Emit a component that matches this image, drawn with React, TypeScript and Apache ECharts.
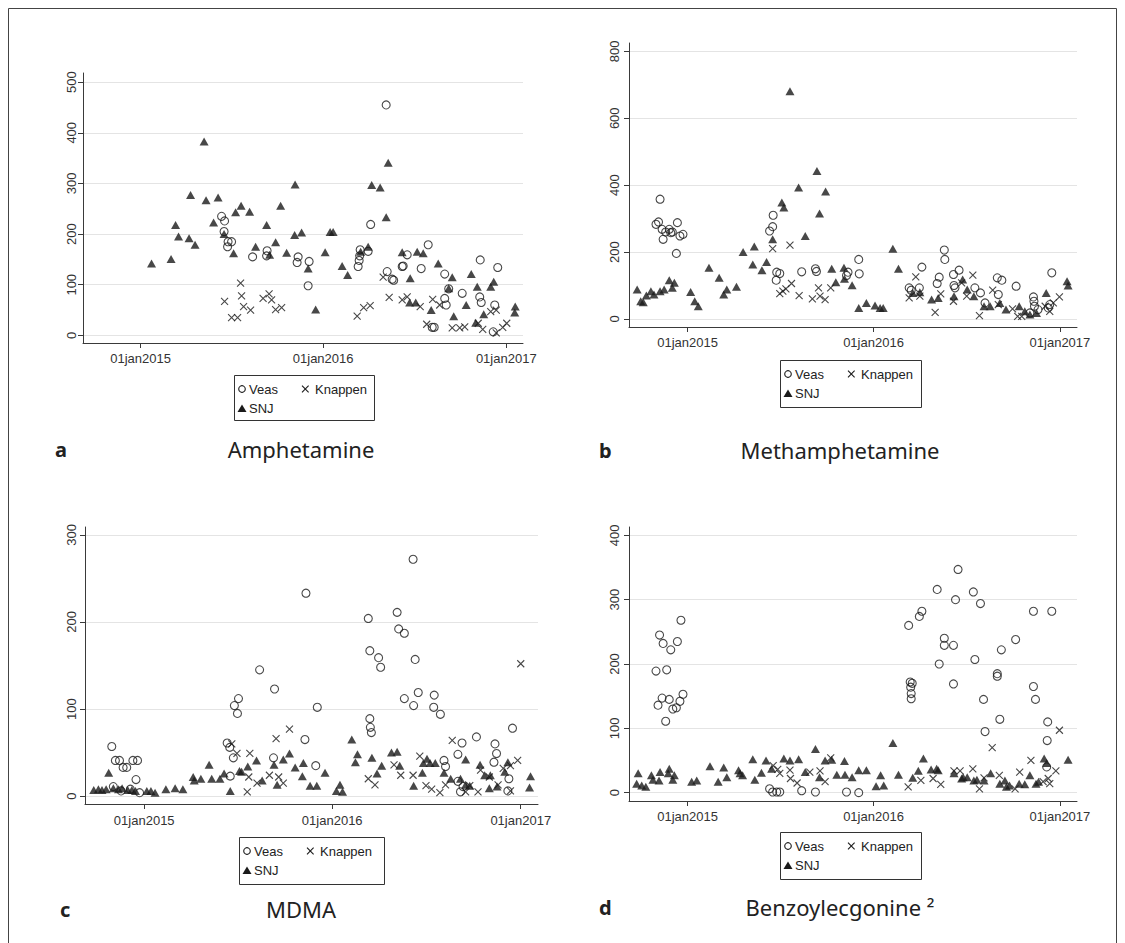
import React, { useEffect, useRef } from "react";
import * as echarts from "echarts";

type Pt = [string, number];

// ---------- tick labels / names ----------
const xTickDates = ["2015-01-01", "2016-01-01", "2017-01-01"];
const amphYTicks = [0, 100, 200, 300, 400, 500];
const methYTicks = [0, 200, 400, 600, 800];
const mdmaYTicks = [0, 100, 200, 300];
const bzeYTicks = [0, 100, 200, 300, 400];
const legendNames = ["Veas", "Knappen", "SNJ"];
const panelTitles = ["Amphetamine", "Methamphetamine", "MDMA", "Benzoylecgonine \u00b2"];
const panelLetters = ["a", "b", "c", "d"];

// ---------- a: Amphetamine ----------
const amphVeas: Pt[] = [
  ["2015-06-12", 235], ["2015-06-18", 226], ["2015-06-17", 205], ["2015-06-25", 185], ["2015-07-02", 185],
  ["2015-06-24", 175], ["2015-08-13", 155], ["2015-09-11", 167], ["2015-09-10", 157], ["2015-11-12", 155],
  ["2015-11-10", 144], ["2015-12-04", 146], ["2015-12-02", 98], ["2016-05-06", 455], ["2016-04-05", 219],
  ["2016-03-15", 169], ["2016-03-14", 157], ["2016-03-13", 148], ["2016-03-11", 136], ["2016-03-31", 166],
  ["2016-05-08", 126], ["2016-05-18", 111], ["2016-05-21", 109], ["2016-06-07", 136], ["2016-06-09", 137],
  ["2016-06-17", 159], ["2016-07-15", 132], ["2016-07-29", 179], ["2016-08-06", 16], ["2016-08-10", 16],
  ["2016-08-31", 121], ["2016-08-31", 73], ["2016-09-03", 60], ["2016-09-08", 92], ["2016-10-05", 83],
  ["2016-11-10", 149], ["2016-11-09", 76], ["2016-11-12", 65], ["2016-12-09", 60], ["2016-12-15", 134],
  ["2016-12-06", 7],
];
const amphKnappen: Pt[] = [
  ["2015-06-18", 67], ["2015-07-02", 35], ["2015-07-14", 35], ["2015-07-20", 103], ["2015-07-22", 78],
  ["2015-07-26", 57], ["2015-08-09", 50], ["2015-09-03", 73], ["2015-09-15", 82], ["2015-09-20", 70],
  ["2015-09-28", 51], ["2015-10-10", 55], ["2016-03-09", 38], ["2016-03-22", 55], ["2016-04-04", 59],
  ["2016-04-30", 115], ["2016-05-12", 75], ["2016-06-07", 70], ["2016-06-17", 76], ["2016-07-13", 57],
  ["2016-07-26", 22], ["2016-08-07", 71], ["2016-08-21", 60], ["2016-09-15", 15], ["2016-09-30", 15],
  ["2016-10-10", 17], ["2016-11-06", 24], ["2016-11-15", 12], ["2016-12-01", 47], ["2016-12-12", 50],
  ["2016-12-12", 5], ["2016-12-25", 16], ["2017-01-02", 24],
];
const amphSNJ: Pt[] = [
  ["2015-01-23", 142], ["2015-03-03", 151], ["2015-03-12", 218], ["2015-03-18", 195], ["2015-04-08", 192],
  ["2015-04-11", 277], ["2015-04-20", 179], ["2015-05-08", 383], ["2015-05-12", 267], ["2015-05-27", 223],
  ["2015-06-05", 272], ["2015-06-17", 200], ["2015-07-06", 162], ["2015-07-10", 243], ["2015-07-21", 256],
  ["2015-08-07", 244], ["2015-08-19", 175], ["2015-09-10", 218], ["2015-09-16", 159], ["2015-09-28", 184],
  ["2015-10-08", 256], ["2015-10-20", 163], ["2015-11-06", 298], ["2015-11-05", 198], ["2015-11-19", 203],
  ["2015-12-02", 132], ["2015-12-17", 51], ["2016-01-05", 164], ["2016-01-15", 204], ["2016-01-21", 204],
  ["2016-02-08", 137], ["2016-02-19", 119], ["2016-03-16", 165], ["2016-03-31", 175], ["2016-04-07", 297],
  ["2016-04-24", 292], ["2016-05-10", 341], ["2016-05-06", 233], ["2016-06-07", 164], ["2016-06-23", 113],
  ["2016-06-22", 65], ["2016-07-04", 65], ["2016-07-07", 165], ["2016-07-19", 162], ["2016-08-04", 50],
  ["2016-08-18", 142], ["2016-09-08", 93], ["2016-09-15", 115], ["2016-09-18", 38], ["2016-10-13", 60],
  ["2016-10-23", 121], ["2016-11-04", 96], ["2016-11-01", 25], ["2016-11-17", 42], ["2016-12-01", 96],
  ["2016-12-07", 106], ["2017-01-19", 57], ["2017-01-18", 45],
];

// ---------- b: Methamphetamine ----------
const methVeas: Pt[] = [
  ["2014-11-08", 358], ["2014-10-31", 283], ["2014-11-05", 290], ["2014-11-14", 238], ["2014-11-12", 268],
  ["2014-11-19", 260], ["2014-11-26", 268], ["2014-11-29", 258], ["2014-12-02", 260], ["2014-12-12", 288],
  ["2014-12-10", 196], ["2014-12-17", 248], ["2014-12-23", 253], ["2015-06-11", 263], ["2015-06-17", 276],
  ["2015-06-18", 310], ["2015-06-25", 140], ["2015-07-01", 136], ["2015-06-24", 116], ["2015-08-13", 141],
  ["2015-09-09", 150], ["2015-09-11", 142], ["2015-11-12", 140], ["2015-11-09", 130], ["2015-12-03", 178],
  ["2015-12-04", 135], ["2016-03-11", 93], ["2016-03-15", 86], ["2016-03-31", 93], ["2016-04-05", 155],
  ["2016-05-05", 106], ["2016-05-09", 125], ["2016-05-19", 206], ["2016-05-20", 178], ["2016-06-06", 133],
  ["2016-06-07", 100], ["2016-06-09", 93], ["2016-06-17", 146], ["2016-07-18", 93], ["2016-07-29", 78],
  ["2016-08-07", 48], ["2016-08-31", 123], ["2016-09-09", 116], ["2016-09-02", 73], ["2016-10-07", 98],
  ["2016-11-10", 66], ["2016-11-11", 53], ["2016-11-12", 38], ["2016-11-19", 28], ["2016-12-09", 33],
  ["2016-12-12", 43], ["2016-12-16", 138], ["2016-11-03", 18],
];
const methKnappen: Pt[] = [
  ["2015-06-17", 210], ["2015-07-21", 221], ["2015-07-01", 76], ["2015-07-07", 83], ["2015-07-13", 90],
  ["2015-07-24", 106], ["2015-08-08", 70], ["2015-09-03", 60], ["2015-09-15", 93], ["2015-09-18", 68],
  ["2015-09-28", 58], ["2015-10-09", 93], ["2016-03-24", 126], ["2016-03-11", 63], ["2016-04-01", 68],
  ["2016-05-01", 20], ["2016-05-12", 75], ["2016-06-06", 53], ["2016-06-22", 108], ["2016-07-02", 68],
  ["2016-07-14", 131], ["2016-07-27", 10], ["2016-08-22", 86], ["2016-09-02", 43], ["2016-09-30", 30],
  ["2016-10-10", 8], ["2016-10-18", 8], ["2016-12-12", 23], ["2016-12-19", 48], ["2016-12-31", 66],
  ["2016-12-03", 38],
];
const methSNJ: Pt[] = [
  ["2014-09-24", 88], ["2014-10-01", 53], ["2014-10-06", 50], ["2014-10-12", 70], ["2014-10-21", 83],
  ["2014-10-27", 73], ["2014-11-08", 83], ["2014-11-16", 88], ["2014-11-26", 116], ["2014-12-02", 93],
  ["2014-12-06", 108], ["2015-01-07", 81], ["2015-01-15", 53], ["2015-01-22", 38], ["2015-02-12", 153],
  ["2015-03-04", 123], ["2015-03-13", 73], ["2015-03-19", 88], ["2015-04-07", 96], ["2015-04-20", 200],
  ["2015-05-09", 163], ["2015-05-12", 217], ["2015-05-27", 146], ["2015-06-05", 170], ["2015-06-17", 238],
  ["2015-07-05", 348], ["2015-07-09", 333], ["2015-07-21", 681], ["2015-08-07", 393], ["2015-08-20", 248],
  ["2015-09-12", 442], ["2015-09-17", 315], ["2015-09-29", 381], ["2015-10-11", 150], ["2015-10-19", 110],
  ["2015-11-04", 153], ["2015-11-05", 120], ["2015-11-20", 101], ["2015-12-03", 33], ["2015-12-18", 48],
  ["2016-01-04", 40], ["2016-01-14", 33], ["2016-01-20", 33], ["2016-02-08", 210], ["2016-02-19", 150],
  ["2016-03-18", 78], ["2016-04-01", 80], ["2016-04-24", 58], ["2016-05-07", 63], ["2016-06-07", 68],
  ["2016-06-24", 118], ["2016-07-03", 88], ["2016-07-16", 68], ["2016-08-05", 38], ["2016-08-17", 38],
  ["2016-09-05", 48], ["2016-09-17", 28], ["2016-10-13", 38], ["2016-10-24", 23], ["2016-11-03", 13],
  ["2016-11-16", 18], ["2016-12-05", 78], ["2017-01-17", 100], ["2017-01-15", 113],
];

// ---------- c: MDMA ----------
const mdmaVeas: Pt[] = [
  ["2014-10-30", 57], ["2014-11-06", 41], ["2014-11-14", 41], ["2014-11-21", 33], ["2014-11-28", 33],
  ["2014-12-10", 41], ["2014-12-19", 41], ["2014-12-16", 19], ["2014-12-23", 4], ["2014-11-02", 11],
  ["2014-11-17", 6], ["2014-12-05", 8], ["2015-06-11", 61], ["2015-06-16", 56], ["2015-06-23", 44],
  ["2015-06-25", 104], ["2015-07-03", 112], ["2015-07-01", 95], ["2015-06-17", 23], ["2015-08-13", 145],
  ["2015-09-11", 123], ["2015-09-09", 44], ["2015-11-09", 65], ["2015-11-11", 233], ["2015-12-03", 102],
  ["2015-11-30", 35], ["2016-03-11", 204], ["2016-03-14", 167], ["2016-03-31", 159], ["2016-04-04", 148],
  ["2016-03-14", 89], ["2016-03-15", 79], ["2016-03-17", 73], ["2016-05-06", 211], ["2016-05-09", 192],
  ["2016-05-20", 187], ["2016-06-06", 272], ["2016-06-10", 157], ["2016-05-20", 112], ["2016-06-07", 104],
  ["2016-06-16", 119], ["2016-07-17", 116], ["2016-07-16", 102], ["2016-07-29", 94], ["2016-08-05", 41],
  ["2016-08-08", 34], ["2016-09-01", 48], ["2016-09-09", 61], ["2016-09-01", 17], ["2016-09-06", 5],
  ["2016-09-11", 11], ["2016-10-07", 68], ["2016-11-12", 60], ["2016-11-15", 49], ["2016-11-10", 39],
  ["2016-12-09", 20], ["2016-12-07", 6], ["2016-12-16", 78],
];
const mdmaKnappen: Pt[] = [
  ["2015-06-20", 60], ["2015-06-30", 49], ["2015-07-20", 5], ["2015-07-23", 22], ["2015-07-25", 49],
  ["2015-08-08", 15], ["2015-09-01", 24], ["2015-09-14", 66], ["2015-09-19", 22], ["2015-09-28", 15],
  ["2015-10-10", 77], ["2016-03-11", 20], ["2016-03-24", 13], ["2016-04-30", 36], ["2016-05-13", 24],
  ["2016-06-06", 24], ["2016-06-19", 46], ["2016-07-01", 12], ["2016-07-12", 8], ["2016-07-28", 4],
  ["2016-08-08", 13], ["2016-08-21", 64], ["2016-09-16", 5], ["2016-09-24", 12], ["2016-10-10", 5],
  ["2016-10-15", 30], ["2016-11-01", 22], ["2016-11-18", 13], ["2016-11-28", 32], ["2016-12-12", 35],
  ["2016-12-26", 41], ["2017-01-01", 152], ["2016-12-12", 6],
];
const mdmaSNJ: Pt[] = [
  ["2014-09-25", 7], ["2014-10-04", 8], ["2014-10-11", 7], ["2014-10-19", 8], ["2014-10-24", 27],
  ["2014-11-02", 9], ["2014-11-12", 8], ["2014-11-19", 9], ["2014-11-30", 7], ["2014-12-08", 7],
  ["2014-12-15", 6], ["2015-01-06", 6], ["2015-01-14", 6], ["2015-01-22", 4], ["2015-02-12", 8],
  ["2015-03-02", 9], ["2015-03-17", 8], ["2015-04-06", 22], ["2015-04-08", 18], ["2015-04-21", 20],
  ["2015-05-07", 36], ["2015-05-12", 20], ["2015-05-28", 20], ["2015-06-05", 26], ["2015-06-17", 6],
  ["2015-07-05", 29], ["2015-07-09", 28], ["2015-07-21", 34], ["2015-08-07", 41], ["2015-08-18", 18],
  ["2015-09-10", 36], ["2015-09-16", 13], ["2015-09-28", 42], ["2015-10-10", 49], ["2015-10-21", 33],
  ["2015-11-04", 23], ["2015-11-06", 38], ["2015-11-19", 12], ["2015-12-02", 12], ["2015-12-18", 27],
  ["2016-01-09", 6], ["2016-01-16", 13], ["2016-01-21", 5], ["2016-02-08", 65], ["2016-02-15", 39],
  ["2016-02-19", 48], ["2016-03-18", 44], ["2016-03-28", 26], ["2016-04-06", 35], ["2016-04-25", 50],
  ["2016-05-06", 51], ["2016-05-11", 35], ["2016-06-07", 12], ["2016-06-24", 27], ["2016-06-26", 38],
  ["2016-07-03", 43], ["2016-07-09", 38], ["2016-07-19", 38], ["2016-08-05", 27], ["2016-08-18", 20],
  ["2016-09-06", 20], ["2016-09-16", 13], ["2016-09-24", 12], ["2016-09-16", 42], ["2016-10-14", 36],
  ["2016-10-23", 24], ["2016-11-03", 24], ["2016-11-01", 9], ["2016-11-16", 11], ["2016-12-01", 28],
  ["2016-12-07", 39], ["2017-01-20", 23], ["2017-01-18", 10],
];

// ---------- d: Benzoylecgonine ----------
const bzeVeas: Pt[] = [
  ["2014-12-19", 268], ["2014-11-07", 245], ["2014-11-14", 232], ["2014-11-29", 222], ["2014-12-12", 235],
  ["2014-10-31", 189], ["2014-11-21", 191], ["2014-11-04", 136], ["2014-11-12", 147], ["2014-11-26", 145],
  ["2014-12-03", 130], ["2014-12-10", 132], ["2014-12-17", 142], ["2014-12-23", 153], ["2014-11-19", 111],
  ["2015-06-11", 6], ["2015-06-17", 1], ["2015-06-25", 1], ["2015-07-01", 1], ["2015-08-13", 3],
  ["2015-09-09", 1], ["2015-11-09", 1], ["2015-12-03", 0], ["2016-03-10", 260], ["2016-03-13", 172],
  ["2016-03-17", 170], ["2016-03-14", 164], ["2016-03-15", 154], ["2016-03-15", 146], ["2016-03-31", 274],
  ["2016-04-05", 282], ["2016-05-05", 316], ["2016-05-09", 200], ["2016-05-19", 240], ["2016-05-19", 229],
  ["2016-06-06", 229], ["2016-06-10", 300], ["2016-06-15", 347], ["2016-06-06", 169], ["2016-07-15", 312],
  ["2016-07-29", 294], ["2016-07-18", 207], ["2016-08-04", 145], ["2016-08-07", 95], ["2016-08-31", 185],
  ["2016-08-31", 181], ["2016-09-08", 222], ["2016-09-05", 114], ["2016-10-06", 238], ["2016-11-10", 282],
  ["2016-12-16", 282], ["2016-11-10", 165], ["2016-11-14", 145], ["2016-12-08", 110], ["2016-12-07", 81],
  ["2016-12-06", 40],
];
const bzeKnappen: Pt[] = [
  ["2015-06-18", 42], ["2015-06-27", 36], ["2015-07-01", 30], ["2015-07-21", 35], ["2015-07-22", 22],
  ["2015-08-04", 15], ["2015-08-29", 32], ["2015-09-18", 34], ["2015-09-28", 17], ["2015-10-09", 54],
  ["2016-03-09", 9], ["2016-04-03", 19], ["2016-04-27", 22], ["2016-05-12", 13], ["2016-06-07", 34],
  ["2016-06-19", 34], ["2016-07-14", 37], ["2016-07-27", 6], ["2016-08-05", 23], ["2016-08-21", 70],
  ["2016-09-04", 27], ["2016-10-05", 6], ["2016-10-14", 32], ["2016-11-05", 50], ["2016-11-29", 17],
  ["2016-12-09", 22], ["2016-12-12", 14], ["2016-12-24", 34], ["2016-12-31", 97],
];
const bzeSNJ: Pt[] = [
  ["2014-09-26", 30], ["2014-09-23", 14], ["2014-10-03", 11], ["2014-10-11", 9], ["2014-10-22", 27],
  ["2014-10-25", 20], ["2014-11-08", 32], ["2014-11-06", 19], ["2014-11-26", 37], ["2014-11-24", 30],
  ["2014-12-06", 27], ["2014-12-03", 20], ["2015-01-09", 17], ["2015-01-19", 19], ["2015-02-14", 41],
  ["2015-03-02", 17], ["2015-03-13", 39], ["2015-03-19", 24], ["2015-04-11", 35], ["2015-04-14", 30],
  ["2015-04-19", 27], ["2015-05-09", 52], ["2015-05-13", 20], ["2015-05-26", 31], ["2015-06-04", 50],
  ["2015-06-15", 37], ["2015-07-09", 53], ["2015-07-21", 50], ["2015-08-07", 52], ["2015-08-20", 32],
  ["2015-09-09", 68], ["2015-09-17", 24], ["2015-09-28", 50], ["2015-10-11", 51], ["2015-10-21", 28],
  ["2015-11-05", 49], ["2015-11-06", 28], ["2015-11-20", 24], ["2015-12-03", 35], ["2015-12-18", 35],
  ["2016-01-06", 10], ["2016-01-21", 11], ["2016-01-15", 27], ["2016-02-08", 77], ["2016-02-19", 28],
  ["2016-03-18", 23], ["2016-03-29", 34], ["2016-04-08", 53], ["2016-04-23", 36], ["2016-05-04", 37],
  ["2016-05-07", 35], ["2016-06-07", 30], ["2016-06-22", 22], ["2016-06-25", 24], ["2016-07-03", 24],
  ["2016-07-16", 19], ["2016-07-22", 20], ["2016-08-05", 19], ["2016-08-18", 30], ["2016-09-05", 14],
  ["2016-09-15", 19], ["2016-09-18", 9], ["2016-09-24", 11], ["2016-10-13", 14], ["2016-10-24", 13],
  ["2016-11-03", 27], ["2016-11-15", 14], ["2016-11-20", 17], ["2016-12-01", 53], ["2016-12-06", 46],
  ["2017-01-17", 51],
];

const panelData = [
  { veas: amphVeas, knappen: amphKnappen, snj: amphSNJ, yTicks: amphYTicks },
  { veas: methVeas, knappen: methKnappen, snj: methSNJ, yTicks: methYTicks },
  { veas: mdmaVeas, knappen: mdmaKnappen, snj: mdmaSNJ, yTicks: mdmaYTicks },
  { veas: bzeVeas, knappen: bzeKnappen, snj: bzeSNJ, yTicks: bzeYTicks },
];

// ---------- layout (pixels) ----------
const layout = [
  { left: 83, top: 73, width: 440, height: 270, yMin: -15, yMax: 518, yMargin: 5, xMargin: 9, legend: [234, 375, 140, 45], letterX: 55, titleX: 301, titleY: 449 },
  { left: 629, top: 43, width: 448, height: 284, yMin: -24, yMax: 825, yMargin: 8, xMargin: 9, legend: [780, 360, 141, 47], letterX: 599, titleX: 840, titleY: 450 },
  { left: 85, top: 527, width: 453, height: 277, yMin: -9, yMax: 309, yMargin: 7, xMargin: 10, legend: [239, 837, 145, 47], letterX: 60, titleX: 301, titleY: 909 },
  { left: 629, top: 527, width: 448, height: 274, yMin: -13, yMax: 413, yMargin: 8, xMargin: 9, legend: [780, 832, 141, 47], letterX: 599, titleX: 840, titleY: 907 },
];

const INK = "#1a1a1a";
const AXIS = "#3a3a3a";
const GRIDC = "#e4e4e4";
const SANS = "'Liberation Sans', Arial, sans-serif";
const TITLEF = "'Noto Sans', 'Open Sans', sans-serif";

const toTs = (s: string) => {
  const [y, m, d] = s.split("-").map(Number);
  return new Date(y, m - 1, d).getTime();
};
const XMIN = new Date(2014, 8, 8).getTime();
const XMAX = new Date(2017, 1, 3, 12).getTime();

function legendGraphic(box: number[]) {
  const [x, y, w, h] = box;
  const r1 = y + 14;
  const r2 = y + 33.5;
  const txt = (t: string, tx: number, ty: number) => ({
    type: "text",
    x: tx,
    y: ty,
    silent: true,
    style: { text: t, fill: "#222", font: `13px ${SANS}`, align: "left", verticalAlign: "middle" },
  });
  return [
    { type: "rect", silent: true, shape: { x: x + 0.5, y: y + 0.5, width: w, height: h }, style: { fill: "#fff", stroke: "#333", lineWidth: 1 } },
    { type: "circle", silent: true, shape: { cx: x + 8, cy: r1, r: 3.3 }, style: { fill: "none", stroke: INK, lineWidth: 1.1 } },
    txt(legendNames[0], x + 15, r1),
    { type: "line", silent: true, shape: { x1: x + 68, y1: r1 - 3.3, x2: x + 74.6, y2: r1 + 3.3 }, style: { stroke: INK, lineWidth: 1.1 } },
    { type: "line", silent: true, shape: { x1: x + 68, y1: r1 + 3.3, x2: x + 74.6, y2: r1 - 3.3 }, style: { stroke: INK, lineWidth: 1.1 } },
    txt(legendNames[1], x + 81, r1),
    { type: "polygon", silent: true, shape: { points: [[x + 3.5, r2 + 3.5], [x + 12.5, r2 + 3.5], [x + 8, r2 - 4]] }, style: { fill: INK } },
    txt(legendNames[2], x + 15, r2),
  ];
}

export default function App() {
  const ref = useRef<HTMLDivElement>(null);

  useEffect(() => {
    if (!ref.current) return;
    const chart = echarts.init(ref.current, undefined, { renderer: "svg" });
    const xTicks = xTickDates.map(toTs);

    const grids = layout.map((l) => ({
      left: l.left,
      top: l.top,
      width: l.width,
      height: l.height,
      containLabel: false,
    }));

    const xAxes = layout.map((l, i) => ({
      type: "value",
      gridIndex: i,
      min: XMIN,
      max: XMAX,
      scale: true,
      axisLine: { show: true, onZero: false, lineStyle: { color: AXIS, width: 1 } },
      axisTick: { show: true, length: 5, customValues: xTicks, lineStyle: { color: AXIS } },
      axisLabel: {
        customValues: xTicks,
        margin: l.xMargin,
        color: "#333",
        fontFamily: SANS,
        fontSize: 13,
        formatter: (v: number) => "01jan" + new Date(v).getFullYear(),
      },
      splitLine: { show: false },
    }));

    const yAxes = layout.map((l, i) => ({
      type: "value",
      gridIndex: i,
      min: l.yMin,
      max: l.yMax,
      axisLine: { show: true, onZero: false, lineStyle: { color: AXIS, width: 1 } },
      axisTick: { show: true, length: 5, customValues: panelData[i].yTicks, lineStyle: { color: AXIS } },
      axisLabel: {
        customValues: panelData[i].yTicks,
        rotate: 90,
        margin: l.yMargin,
        color: "#333",
        fontFamily: SANS,
        fontSize: 13,
      },
      splitLine: { show: true, lineStyle: { color: GRIDC, width: 1.2 } },
    }));

    const series: any[] = [];
    panelData.forEach((p, i) => {
      const conv = (arr: Pt[]) => arr.map(([d, v]) => [toTs(d), v]);
      series.push({
        name: legendNames[0],
        type: "scatter",
        xAxisIndex: i,
        yAxisIndex: i,
        data: conv(p.veas),
        symbol: "circle",
        symbolSize: 8,
        itemStyle: { color: "rgba(255,255,255,0)", borderColor: INK, borderWidth: 1.1 },
        emphasis: { disabled: true },
        silent: true,
      });
      series.push({
        name: legendNames[1],
        type: "scatter",
        xAxisIndex: i,
        yAxisIndex: i,
        data: conv(p.knappen),
        symbol: "path://M0,0L10,10M10,0L0,10",
        symbolSize: 7,
        itemStyle: { color: "rgba(255,255,255,0)", borderColor: INK, borderWidth: 1.1 },
        emphasis: { disabled: true },
        silent: true,
      });
      series.push({
        name: legendNames[2],
        type: "scatter",
        xAxisIndex: i,
        yAxisIndex: i,
        data: conv(p.snj),
        symbol: "triangle",
        symbolSize: [9, 8],
        itemStyle: { color: INK },
        emphasis: { disabled: true },
        silent: true,
      });
    });

    const graphic: any[] = [
      {
        type: "polyline",
        silent: true,
        shape: { points: [[8.5, 943], [8.5, 8.5], [1116.5, 8.5], [1116.5, 943]] },
        style: { fill: "none", stroke: "#444", lineWidth: 1 },
      },
    ];
    layout.forEach((l, i) => {
      graphic.push(...legendGraphic(l.legend));
      graphic.push({
        type: "text",
        silent: true,
        x: l.letterX,
        y: l.titleY,
        style: { text: panelLetters[i], fill: "#222", font: `bold 20px ${TITLEF}`, align: "left", verticalAlign: "middle" },
      });
      graphic.push({
        type: "text",
        silent: true,
        x: l.titleX,
        y: l.titleY,
        style: { text: panelTitles[i], fill: "#222", font: `22px ${TITLEF}`, align: "center", verticalAlign: "middle" },
      });
    });

    chart.setOption({
      animation: false,
      backgroundColor: "#ffffff",
      grid: grids,
      xAxis: xAxes,
      yAxis: yAxes,
      series,
      graphic,
    });

    return () => chart.dispose();
  }, []);

  return (
    <div
      ref={ref}
      style={{ position: "absolute", left: 0, top: 0, width: 1125, height: 943, background: "#fff" }}
    />
  );
}
